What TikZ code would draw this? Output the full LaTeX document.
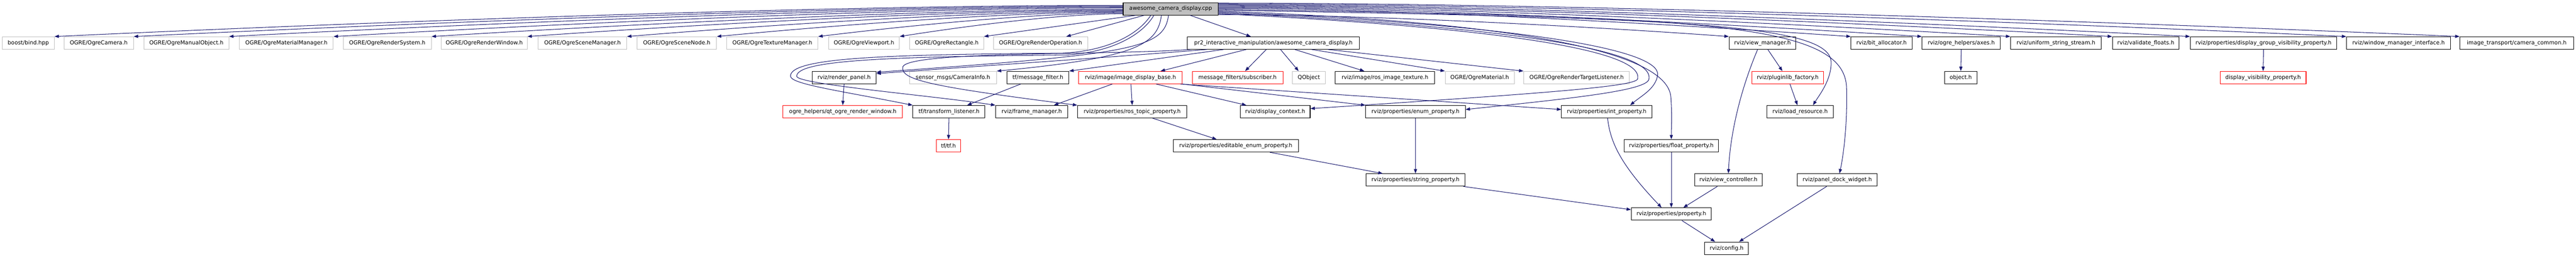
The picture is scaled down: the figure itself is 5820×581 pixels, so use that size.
\documentclass[tikz,border=0pt]{standalone}
\usepackage{fontspec}
\newfontfamily\dvfont{DejaVu Sans}
\usetikzlibrary{arrows.meta,calc}
\definecolor{edgecol}{HTML}{191970}
\definecolor{grayb}{HTML}{BFBFBF}
\begin{document}
\begin{tikzpicture}[x=0.5pt,y=-0.5pt,
  bx/.style={draw=black,line width=0.6pt,minimum height=14pt,inner xsep=4pt,inner ysep=0pt,font=\dvfont\fontsize{6.2}{7.5}\selectfont,fill=white},
  gbx/.style={bx,draw=grayb},
  rbx/.style={bx,draw=red},
  rootbx/.style={bx,fill=grayb},
  wd/.style={minimum width=#1*0.5pt},
  lnk/.style={draw=edgecol,line width=0.6pt,-{Triangle[length=5pt,width=3.6pt]}}]
\useasboundingbox[fill=white] (0,0) rectangle (5820,581);

% root
\node[rootbx,wd=215] (A) at (2645,20) {awesome\_camera\_display.cpp};

% row 1
\node[gbx,wd=117] (n1) at (64,97) {boost/bind.hpp};
\node[gbx,wd=157] (n2) at (223,97) {OGRE/OgreCamera.h};
\node[gbx,wd=192] (n3) at (421,97) {OGRE/OgreManualObject.h};
\node[gbx,wd=212] (n4) at (647,97) {OGRE/OgreMaterialManager.h};
\node[gbx,wd=199] (n5) at (875,97) {OGRE/OgreRenderSystem.h};
\node[gbx,wd=194] (n6) at (1094,97) {OGRE/OgreRenderWindow.h};
\node[gbx,wd=200] (n7) at (1316,97) {OGRE/OgreSceneManager.h};
\node[gbx,wd=180] (n8) at (1529,97) {OGRE/OgreSceneNode.h};
\node[gbx,wd=206] (n9) at (1745,97) {OGRE/OgreTextureManager.h};
\node[gbx,wd=160] (n10) at (1952,97) {OGRE/OgreViewport.h};
\node[gbx,wd=167] (n11) at (2139,97) {OGRE/OgreRectangle.h};
\node[gbx,wd=213] (n12) at (2351,97) {OGRE/OgreRenderOperation.h};
\node[bx,wd=389] (pr2) at (2877,97) {pr2\_interactive\_manipulation/awesome\_camera\_display.h};
\node[bx,wd=151] (vm) at (3982,97) {rviz/view\_manager.h};
\node[bx,wd=138] (ba) at (4251,97) {rviz/bit\_allocator.h};
\node[bx,wd=177] (ax) at (4431,97) {rviz/ogre\_helpers/axes.h};
\node[bx,wd=205] (uss) at (4645,97) {rviz/uniform\_string\_stream.h};
\node[bx,wd=151] (vf) at (4848,97) {rviz/validate\_floats.h};
\node[bx,wd=331] (dgv) at (5114,97) {rviz/properties/display\_group\_visibility\_property.h};
\node[bx,wd=235] (wmi) at (5419,97) {rviz/window\_manager\_interface.h};
\node[bx,wd=257] (cc) at (5686,97) {image\_transport/camera\_common.h};

% row 2
\node[bx,wd=145] (rp) at (1907,175) {rviz/render\_panel.h};
\node[gbx,wd=197] (ci) at (2153,175) {sensor\_msgs/CameraInfo.h};
\node[bx,wd=140] (mf) at (2345,175) {tf/message\_filter.h};
\node[rbx,wd=234] (idb) at (2554,175) {rviz/image/image\_display\_base.h};
\node[rbx,wd=205] (sub) at (2796,175) {message\_filters/subscriber.h};
\node[gbx,wd=74] (qo) at (2957,175) {QObject};
\node[bx,wd=224] (rit) at (3129,175) {rviz/image/ros\_image\_texture.h};
\node[gbx,wd=156] (om) at (3343,175) {OGRE/OgreMaterial.h};
\node[gbx,wd=239] (ortl) at (3562,175) {OGRE/OgreRenderTargetListener.h};
\node[rbx,wd=161] (pf) at (4039,175) {rviz/pluginlib\_factory.h};
\node[bx,wd=74] (obj) at (4430,175) {object.h};
\node[rbx,wd=194] (dvp) at (5113,175) {display\_visibility\_property.h};

% row 3
\node[rbx,wd=270] (qorw) at (1904,252) {ogre\_helpers/qt\_ogre\_render\_window.h};
\node[bx,wd=163] (tl) at (2144,252) {tf/transform\_listener.h};
\node[bx,wd=163] (fm) at (2331,252) {rviz/frame\_manager.h};
\node[bx,wd=247] (rtp) at (2558,252) {rviz/properties/ros\_topic\_property.h};
\node[bx,wd=158] (dc) at (2881,252) {rviz/display\_context.h};
\node[bx,wd=225] (ep) at (3198,252) {rviz/properties/enum\_property.h};
\node[bx,wd=204] (ip) at (3630,252) {rviz/properties/int\_property.h};
\node[bx,wd=151] (lr) at (4067,252) {rviz/load\_resource.h};

% row 4
\node[rbx,wd=55] (tf) at (2143,329) {tf/tf.h};
\node[bx,wd=283] (eep) at (2792,329) {rviz/properties/editable\_enum\_property.h};
\node[bx,wd=214] (fp) at (3776,329) {rviz/properties/float\_property.h};

% row 5
\node[bx,wd=223] (sp) at (3198,406) {rviz/properties/string\_property.h};
\node[bx,wd=153] (vc) at (3905,406) {rviz/view\_controller.h};
\node[bx,wd=180] (pdw) at (4151,406) {rviz/panel\_dock\_widget.h};

% row 6, 7
\node[bx,wd=181] (prop) at (3776,483) {rviz/properties/property.h};
\node[bx,wd=99] (cfg) at (3901,560) {rviz/config.h};

% ---- edges from root to row 1 (left)
\draw[lnk] ($(A.west)+(0,-8)$) .. controls +(-725,0) and +(604,-28) .. (n1.north east);
\draw[lnk] ($(A.west)+(0,-6)$) .. controls +(-670,0) and +(560,-27) .. (n2.north east);
\draw[lnk] ($(A.west)+(0,-4)$) .. controls +(-606,0) and +(505,-26) .. (n3.north east);
\draw[lnk] ($(A.west)+(0,-2)$) .. controls +(-535,0) and +(446,-25) .. (n4.north east);
\draw[lnk] ($(A.west)+(0,1)$) .. controls +(-470,0) and +(391,-24) .. (n5.north east);
\draw[lnk] ($(A.west)+(0,3)$) .. controls +(-404,0) and +(337,-24) .. (n6.north east);
\draw[lnk] ($(A.west)+(0,5)$) .. controls +(-337,0) and +(280,-23) .. (n7.north east);
\draw[lnk] ($(A.west)+(0,7)$) .. controls +(-276,0) and +(230,-22) .. (n8.north east);
\draw[lnk] ($(A.west)+(0,9)$) .. controls +(-207,0) and +(172,-21) .. (n9.north east);
\draw[lnk] ($(A.west)+(0,11)$) .. controls +(-150,0) and +(126,-20) .. (n10.north east);
\draw[lnk] ($(A.south)+(-79,0)$) -- (n11.north east);
\draw[lnk] ($(A.south)+(-60,0)$) -- ($(n12.north east)+(-49,0)$);
\draw[lnk] ($(A.south)+(44,0)$) -- ($(pr2.north)+(-51,0)$);

% ---- edges from root to row 1 (right)
\draw[lnk] ($(A.east)+(0,13)$) .. controls +(346,0) and +(-288,-21) .. (vm.north west);
\draw[lnk] ($(A.east)+(0,-1)$) .. controls +(429,0) and +(-357,-24) .. (ba.north west);
\draw[lnk] ($(A.east)+(0,-3)$) .. controls +(477,0) and +(-397,-25) .. (ax.north west);
\draw[lnk] ($(A.east)+(0,-5)$) .. controls +(537,0) and +(-447,-26) .. (uss.north west);
\draw[lnk] ($(A.east)+(0,-7)$) .. controls +(606,0) and +(-505,-27) .. (vf.north west);
\draw[lnk] ($(A.east)+(0,-9)$) .. controls +(658,0) and +(-549,-28) .. (dgv.north west);
\draw[lnk] ($(A.east)+(0,-11)$) .. controls +(764,0) and +(-637,-29) .. (wmi.north west);
\draw[lnk] ($(A.east)+(0,-13)$) .. controls +(842,0) and +(-701,-30) .. (cc.north west);

% ---- root curves to lower nodes
\draw[lnk] ($(A.east)+(0,11)$) .. controls (3350,60) and (3715,110) .. (3700,178) .. controls (3695,195) and (3500,210) .. ($(dc.east)+(0,-7)$);
\draw[lnk] ($(A.east)+(0,9)$) .. controls (3380,58) and (3745,110) .. (3725,180) .. controls (3715,205) and (3550,222) .. ($(ep.east)+(0,-5)$);
\draw[lnk] ($(A.east)+(0,7)$) .. controls (3420,55) and (3755,110) .. (3745,170) .. controls (3740,200) and (3710,215) .. ($(ip.north)+(53,0)$);
\draw[lnk] ($(A.east)+(0,5)$) .. controls (3450,50) and (3770,120) .. (3775,220) .. controls (3778,260) and (3776,290) .. (fp.north);
\draw[lnk] ($(A.east)+(0,3)$) .. controls (3800,40) and (4135,55) .. (4137,140) .. controls (4138,180) and (4110,215) .. ($(lr.north)+(29,0)$);
\draw[lnk] ($(A.east)+(0,1)$) .. controls (3850,38) and (4170,50) .. (4172,200) .. controls (4174,280) and (4165,350) .. ($(pdw.north)+(5,0)$);

\draw[lnk] ($(A.south)+(-5,0)$) .. controls (2630,110) and (2560,122) .. ($(rp.east)+(0,-12)$);
\draw[lnk] ($(A.south)+(-21,0)$) .. controls (2615,100) and (2570,130) .. (ci.north east);
\draw[lnk] ($(A.south)+(-45,0)$) .. controls (2570,80) and (2500,115) .. (2400,120) .. controls (2000,123) and (1784,130) .. (1786,172) .. controls (1787,190) and (1900,205) .. (tl.north west);
\draw[lnk] ($(A.south)+(-38,0)$) .. controls (2580,80) and (2510,118) .. (2410,124) .. controls (2010,128) and (1800,135) .. (1800,172) .. controls (1800,190) and (2100,215) .. (fm.north west);

% ---- pr2 header edges
\draw[lnk] ($(pr2.south west)+(8,0)$) .. controls (2500,125) and (2060,115) .. (2040,150) .. controls (2032,180) and (2100,195) .. (rtp.north west);
\draw[lnk] ($(pr2.south west)+(45,0)$) .. controls (2500,130) and (2200,150) .. ($(rp.east)+(0,-9)$);
\draw[lnk] ($(pr2.south west)+(83,0)$) -- (mf.north east);
\draw[lnk] ($(pr2.south west)+(134,0)$) -- ($(idb.north)+(68,0)$);
\draw[lnk] ($(pr2.south)+(-16,0)$) -- ($(sub.north)+(17,0)$);
\draw[lnk] ($(pr2.south)+(16,0)$) -- ($(qo.north)+(-23,0)$);
\draw[lnk] ($(pr2.south)+(48,0)$) -- ($(rit.north west)+(66,0)$);
\draw[lnk] ($(pr2.south)+(86,0)$) -- (om.north west);
\draw[lnk] ($(pr2.south)+(123,0)$) -- (ortl.north west);

% ---- image_display_base edges
\draw[lnk] ($(idb.south)+(-41,0)$) -- ($(fm.north)+(50,0)$);
\draw[lnk] ($(idb.south)+(1,0)$) -- (rtp.north);
\draw[lnk] ($(idb.south)+(58,0)$) -- ($(dc.north)+(-65,0)$);
\draw[lnk] (idb.south east) -- (ep.north west);
\draw[lnk] ($(idb.south east)+(-5,0)$) -- ($(ip.west)+(0,-5)$);

% ---- remaining edges
\draw[lnk] ($(mf.south)+(-39,0)$) -- ($(tl.north)+(41,0)$);
\draw[lnk] (rp.south) -- (qorw.north);
\draw[lnk] (tl.south) -- (tf.north);
\draw[lnk] ($(rtp.south)+(46,0)$) -- ($(eep.north)+(-43,0)$);
\draw[lnk] ($(eep.south)+(77,0)$) -- ($(sp.north)+(-74,0)$);
\draw[lnk] (ep.south) -- (sp.north);
\draw[lnk] ($(sp.south east)+(-4,0)$) -- ($(prop.west)+(0,-10)$);
\draw[lnk] ($(ip.south)+(2,0)$) .. controls (3638,320) and (3660,370) .. ($(prop.north)+(-22,0)$);
\draw[lnk] (fp.south) -- (prop.north);
\draw[lnk] ($(vc.south)+(-25,0)$) -- ($(prop.north)+(27,0)$);
\draw[lnk] ($(prop.south)+(24,0)$) -- ($(cfg.north)+(-26,0)$);
\draw[lnk] ($(pdw.south)+(-24,0)$) -- ($(cfg.north)+(28,0)$);
\draw[lnk] ($(vm.south)+(12,0)$) -- ($(pf.north)+(-12,0)$);
\draw[lnk] ($(vm.south)+(-11,0)$) .. controls (3925,220) and (3908,320) .. (vc.north);
\draw[lnk] ($(pf.south)+(5,0)$) -- ($(lr.north)+(-6,0)$);
\draw[lnk] (ax.south) -- (obj.north);
\draw[lnk] (dgv.south) -- (dvp.north);
\end{tikzpicture}
\end{document}
